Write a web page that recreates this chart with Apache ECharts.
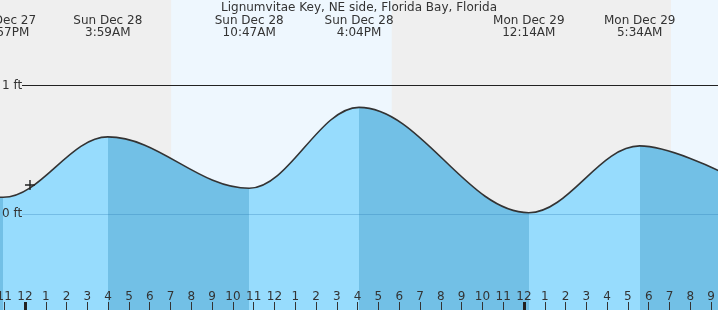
<!DOCTYPE html>
<html><head><meta charset="utf-8">
<script src="https://cdn.jsdelivr.net/npm/echarts@6/dist/echarts.min.js"></script>
<style>html,body{margin:0;padding:0;background:#efefef}#c{width:718px;height:310px}</style>
</head><body><div id="c"></div>
<script>
const chartTitle = 'Lignumvitae Key, NE side, Florida Bay, Florida';
// hours relative to Sun Dec 28 00:00
const eventHours = [-1.05, 3.983, 10.783, 16.067, 24.233, 29.567];
const eventHeights = [0.13, 0.60, 0.20, 0.83, 0.01, 0.53];
const eventDates = ['Sat Dec 27', 'Sun Dec 28', 'Sun Dec 28', 'Sun Dec 28', 'Mon Dec 29', 'Mon Dec 29'];
const eventTimes = ['10:57PM', '3:59AM', '10:47AM', '4:04PM', '12:14AM', '5:34AM'];
const edgeHours = [-1.21, 33.4];
const edgeHeights = [0.13, 0.335];
const hourTicks = [-1,0,1,2,3,4,5,6,7,8,9,10,11,12,13,14,15,16,17,18,19,20,21,22,23,24,25,26,27,28,29,30,31,32,33];
const hourLabels = ['11','12','1','2','3','4','5','6','7','8','9','10','11','12','1','2','3','4','5','6','7','8','9','10','11','12','1','2','3','4','5','6','7','8','9'];
const midnightTicks = [0, 24];
const dayStarts = [7.03, 31.07];
const dayEnds = [17.64, 33.5];
const nowPoint = [0.24, 0.226];
const ftTicks = [0, 1];

const X_MIN = -1.2025, X_MAX = 33.333;
const LIGHT = '#97dcfd', DARK = '#72c0e6';

const points = [[edgeHours[0], edgeHeights[0]]];
eventHours.forEach((h, i) => points.push([h, eventHeights[i]]));
points.push([edgeHours[1], edgeHeights[1]]);

const pieces = [];
for (let i = 0; i <= eventHours.length; i++) {
  const p = { color: i % 2 === 0 ? DARK : LIGHT };
  if (i > 0) p.gt = eventHours[i - 1];
  if (i < eventHours.length) p.lte = eventHours[i];
  pieces.push(p);
}

const font = 'DejaVu Sans';
const chart = echarts.init(document.getElementById('c'));
chart.setOption({
  animation: false,
  backgroundColor: '#efefef',
  textStyle: { fontFamily: font },
  title: { text: chartTitle, left: 'center', top: 2, padding: 0,
    textStyle: { fontFamily: font, fontSize: 12, fontWeight: 'normal', color: '#333' } },
  grid: { left: 0, right: 0, top: 0, bottom: 0, containLabel: false, outerBoundsMode: 'none' },
  visualMap: { show: false, type: 'piecewise', dimension: 0, seriesIndex: 0, pieces: pieces },
  xAxis: [
    { type: 'value', position: 'bottom', min: X_MIN, max: X_MAX, z: 10,
      axisLine: { show: false, onZero: false }, splitLine: { show: false },
      axisTick: { show: true, inside: true, length: 8, customValues: hourTicks, lineStyle: { color: '#333', width: 1 } },
      axisLabel: { inside: true, margin: 7, customValues: hourTicks, color: '#333', fontSize: 12, fontFamily: font,
        formatter: v => hourLabels[hourTicks.indexOf(Math.round(v))] } },
    { type: 'value', position: 'bottom', min: X_MIN, max: X_MAX, z: 11,
      axisLine: { show: false, onZero: false }, splitLine: { show: false }, axisLabel: { show: false },
      axisTick: { show: true, inside: true, length: 8, customValues: midnightTicks, lineStyle: { color: '#222', width: 3 } } },
    { type: 'value', position: 'top', min: X_MIN, max: X_MAX, z: 10,
      axisLine: { show: false, onZero: false }, splitLine: { show: false }, axisTick: { show: false },
      axisLabel: { inside: true, margin: 14.5, customValues: eventHours, color: '#333', fontSize: 12, fontFamily: font, lineHeight: 12,
        formatter: v => { const i = eventHours.indexOf(v); return eventDates[i] + '\n' + eventTimes[i]; } } }
  ],
  yAxis: { type: 'value', min: -0.7471, max: 1.6654, z: 10,
    axisLine: { show: false, onZero: false }, axisTick: { show: false }, splitLine: { show: false },
    axisLabel: { inside: true, margin: 2, align: 'left', customValues: ftTicks, color: '#333', fontSize: 12, fontFamily: font,
      formatter: v => v + ' ft' } },
  series: [
    { type: 'line', xAxisIndex: 0, data: points, smooth: 0.36, smoothMonotone: 'x', symbol: 'none',
      lineStyle: { color: '#333', width: 1.6 },
      areaStyle: { origin: 'start', opacity: 1 },
      markArea: { silent: true, itemStyle: { color: '#eef7fe' },
        data: dayStarts.map((s, i) => [{ xAxis: s }, { xAxis: dayEnds[i] }]) },
      markLine: { silent: true, symbol: 'none', label: { show: false },
        data: [
          [{ x: 22, yAxis: ftTicks[1], lineStyle: { color: '#222', width: 1, type: 'solid' } }, { x: '100%', yAxis: ftTicks[1], lineStyle: { color: '#222', width: 1, type: 'solid' } }],
          [{ x: 22, yAxis: ftTicks[0], lineStyle: { color: 'rgba(40,120,180,0.3)', width: 1, type: 'solid' } }, { x: '100%', yAxis: ftTicks[0], lineStyle: { color: 'rgba(40,120,180,0.3)', width: 1, type: 'solid' } }]
        ] } },
    { type: 'scatter', xAxisIndex: 0, data: [nowPoint], z: 6,
      symbol: 'path://M0,4.3H10V5.7H0Z M4.3,0H5.7V10H4.3Z', symbolSize: 10,
      itemStyle: { color: '#222', opacity: 1 } }
  ]
});
</script></body></html>
